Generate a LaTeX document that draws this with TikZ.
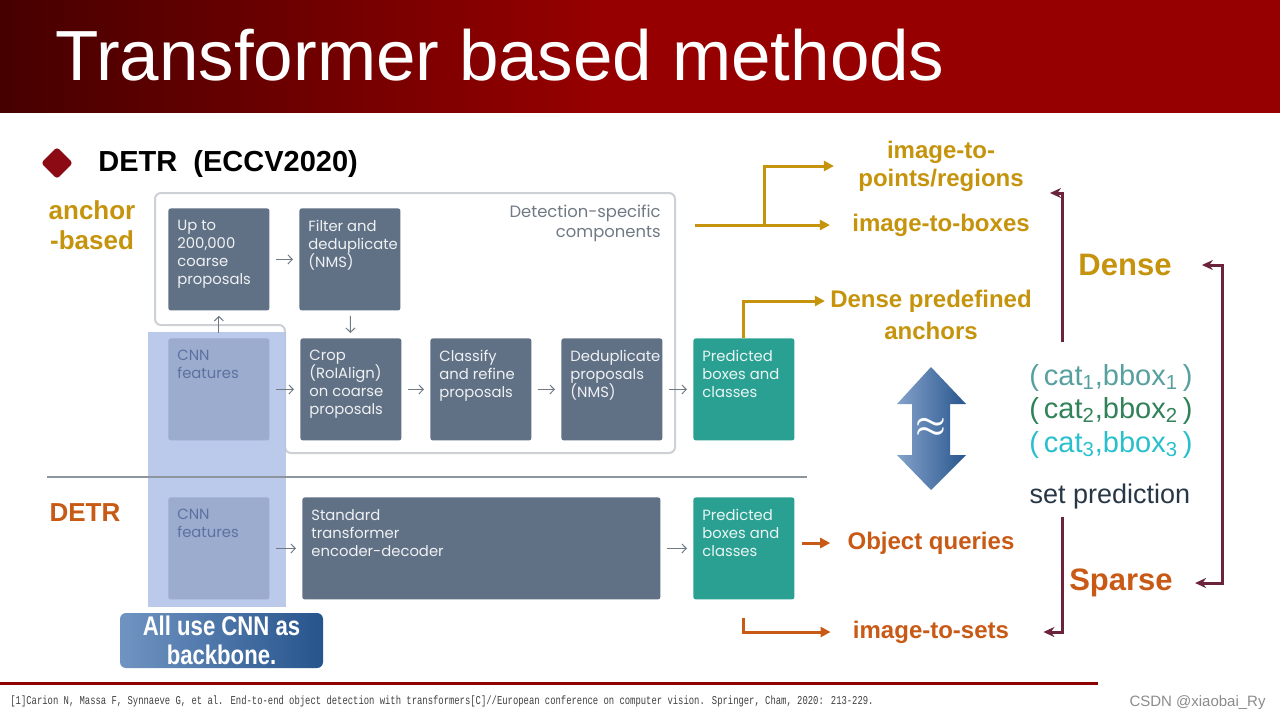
\documentclass[tikz,border=0pt]{standalone}
\usepackage{fontspec}
\setmainfont{Liberation Sans}
\newfontfamily\boxfont{Poppins}
\newfontfamily\narrowfont{Liberation Sans}[FakeStretch=0.82]
\newfontfamily\citefont{Liberation Mono}[FakeStretch=0.74]
\usetikzlibrary{arrows.meta,shapes.geometric}
\definecolor{titlered}{RGB}{150,0,0}
\definecolor{titledark}{RGB}{70,0,0}
\definecolor{bulletred}{RGB}{140,10,20}
\definecolor{slate}{RGB}{96,112,133}
\definecolor{tealbox}{RGB}{42,160,146}
\definecolor{cnnfill}{RGB}{155,172,206}
\definecolor{cnntext}{RGB}{92,113,160}
\definecolor{hilite}{RGB}{180,196,232}
\definecolor{framegray}{RGB}{205,208,212}
\definecolor{flowgray}{RGB}{112,122,133}
\definecolor{gold}{RGB}{197,148,12}
\definecolor{rust}{RGB}{200,90,22}
\definecolor{maroon}{RGB}{108,36,62}
\definecolor{catA}{RGB}{88,160,160}
\definecolor{catB}{RGB}{48,130,88}
\definecolor{catC}{RGB}{40,192,204}
\definecolor{setgray}{RGB}{40,55,70}
\definecolor{btnlight}{RGB}{112,148,194}
\definecolor{btndark}{RGB}{38,84,140}
\definecolor{dblight}{RGB}{132,162,202}
\definecolor{dbdark}{RGB}{40,86,142}
\definecolor{linered}{RGB}{140,0,0}

\begin{document}
\begin{tikzpicture}[x=0.5pt, y=-0.5pt,
  box/.style={fill=slate, rounded corners=1.2pt, minimum width=50.5pt, minimum height=51pt, inner sep=0pt, anchor=north west},
  boxtxt/.style={anchor=north west, align=left, inner xsep=4.5pt, inner ysep=6pt, text=white!90!slate, font=\boxfont\fontsize{7.4}{9}\selectfont},
  cnntxt/.style={boxtxt, text=cnntext},
  predtxt/.style={boxtxt, text=white!90!tealbox},
  flow/.style={draw=flowgray, line width=0.5pt, -{Straight Barb[length=2.2pt,width=4.5pt]}, shorten <=3pt, shorten >=3pt},
  goldarr/.style={draw=gold, line width=1.5pt, -{Triangle[length=5pt,width=5pt]}},
  rustarr/.style={draw=rust, line width=1.5pt, -{Triangle[length=5pt,width=5pt]}},
  maroonarr/.style={draw=maroon, line width=1.5pt, -{Stealth[length=5.5pt,width=5pt]}},
  goldlbl/.style={text=gold, font=\bfseries\fontsize{12}{14}\selectfont, align=center, inner sep=1pt},
  rustlbl/.style={text=rust, font=\bfseries\fontsize{12}{14}\selectfont, align=center, inner sep=1pt},
  catlbl/.style={font=\fontsize{14.5}{16}\selectfont, inner sep=0pt}]
\useasboundingbox (0,0) rectangle (1280,720);
\fill[white] (0,0) rectangle (1280,720);

\fill[titlered] (0,0) rectangle (1280,113);
\shade[left color=titledark, right color=titlered] (0,0) rectangle (600,113);
\fill[white] (0,113) rectangle (1280,118);
\node[anchor=base west, text=white, font=\fontsize{35.5}{40}\selectfont, inner sep=0pt] (title) at (55,80) {Transformer based methods};

\node[diamond, fill=bulletred, minimum size=16pt, inner sep=0pt, rounded corners=1.5pt] (bullet) at (57,163) {};
\node[anchor=west, font=\bfseries\fontsize{14.5}{17}\selectfont, inner sep=0pt] (head) at (98,164) {DETR\ \ (ECCV2020)};
\node[text=gold, font=\bfseries\fontsize{13}{15}\selectfont, align=center] (anchorlbl) at (92,225) {anchor\\-based};
\node[text=rust, font=\bfseries\fontsize{13}{15}\selectfont] (detrlbl) at (85,513) {DETR};

\draw[framegray, line width=1pt, rounded corners=3pt] (155,193) -- (675,193) -- (675,453) -- (285,453) -- (285,325) -- (155,325) -- cycle;
\node[anchor=north east, align=right, inner sep=0pt, text=flowgray, font=\boxfont\fontsize{8.2}{10}\selectfont] (detspec) at (661,205) {Detection-specific\\components};
\fill[hilite, opacity=0.9] (148,332) rectangle (286,607);
\draw[flowgray!80, line width=0.8pt] (47,477) -- (807,477);

\node[box, label={[boxtxt]north west:{Up to\\200,000\\coarse\\proposals}}] (upto) at (168,208) {};
\node[box, label={[boxtxt]north west:{Filter and\\deduplicate\\(NMS)}}] (filter) at (299,208) {};
\node[box, fill=cnnfill, label={[cnntxt]north west:{CNN\\features}}] (cnn1) at (168,338) {};
\node[box, label={[boxtxt]north west:{Crop\\(RoIAlign)\\on coarse\\proposals}}] (crop) at (300,338) {};
\node[box, label={[boxtxt]north west:{Classify\\and refine\\proposals}}] (classify) at (430,338) {};
\node[box, label={[boxtxt]north west:{Deduplicate\\proposals\\(NMS)}}] (dedup) at (561,338) {};
\node[box, fill=tealbox, label={[predtxt]north west:{Predicted\\boxes and\\classes}}] (pred1) at (693,338) {};
\node[box, fill=cnnfill, label={[cnntxt]north west:{CNN\\features}}] (cnn2) at (168,497) {};
\node[box, minimum width=179pt, label={[boxtxt]north west:{Standard\\transformer\\encoder-decoder}}] (transf) at (302,497) {};
\node[box, fill=tealbox, label={[predtxt]north west:{Predicted\\boxes and\\classes}}] (pred2) at (693,497) {};

\draw[flow] (upto) -- (filter);
\draw[flow, shorten <=2.5pt, shorten >=2.5pt] (cnn1) -- (upto);
\draw[flow, shorten <=2.5pt, shorten >=2.5pt] (filter) -- (crop);
\draw[flow] (cnn1) -- (crop);
\draw[flow] (crop) -- (classify);
\draw[flow] (classify) -- (dedup);
\draw[flow] (dedup) -- (pred1);
\draw[flow] (cnn2) -- (transf);
\draw[flow] (transf) -- (pred2);

\node[rounded corners=3pt, left color=btnlight, right color=btndark, minimum width=101.5pt, minimum height=27.5pt, inner sep=0pt, text=white, align=center, font=\narrowfont\bfseries\fontsize{13.5}{14.5}\selectfont] (backbone) at (221.5,640.5) {All use CNN as\\backbone.};

\node[goldlbl] (pts) at (941,166) {image-to-\\points/regions};
\node[goldlbl] (boxes) at (941,225) {image-to-boxes};
\node[goldlbl] (dpre) at (931,301) {Dense predefined};
\node[goldlbl] (anch) at (931,331) {anchors};
\node[rustlbl] (objq) at (931,543) {Object queries};
\node[rustlbl] (sets) at (931,632) {image-to-sets};

\coordinate (detout) at (695,225);
\coordinate (split) at (764,225);
\draw[goldarr, shorten >=10pt] (detout) -- (boxes.west);
\draw[goldarr, shorten >=11pt] (split) |- (pts.west);
\draw[goldarr, shorten >=1.5pt] (pred1.north) |- (dpre.west);
\draw[rustarr, shorten <=3.5pt, shorten >=7.5pt] (pred2.east |- objq.west) -- (objq.west);
\draw[rustarr, shorten <=9pt, shorten >=10pt] (pred2.south) |- (sets.west);

\shade[left color=dblight, right color=dbdark] (931,367) -- (966,404) -- (950,404) -- (950,455) -- (966,455) -- (931,490) -- (897,455) -- (912,455) -- (912,404) -- (897,404) -- cycle;
\node[text=white, font=\fontsize{19}{19}\selectfont\boldmath] (approx) at (931,428) {$\approx$};

\node[catlbl, text=catA] (cat1) at (1111,378) {(\,cat\textsubscript{1},bbox\textsubscript{1}\,)};
\node[catlbl, text=catB] (cat2) at (1111,411) {(\,cat\textsubscript{2},bbox\textsubscript{2}\,)};
\node[catlbl, text=catC] (cat3) at (1111,445) {(\,cat\textsubscript{3},bbox\textsubscript{3}\,)};
\node[text=setgray, font=\fontsize{13.5}{15}\selectfont, inner sep=1pt] (setp) at (1110,497) {set prediction};

\node[text=gold, font=\bfseries\fontsize{15.5}{18}\selectfont, inner sep=1pt] (dense) at (1125,265) {Dense};
\node[text=rust, font=\bfseries\fontsize{15.5}{18}\selectfont, inner sep=1pt] (sparse) at (1121,583) {Sparse};

\coordinate (densefoot) at (1062,342);
\coordinate (densehook) at (1050,193);
\coordinate (setfoot) at (1062,517);
\coordinate (brk) at (1222,265);
\draw[maroonarr] (densefoot) |- (densehook);
\draw[maroonarr, shorten >=16pt] (setfoot) |- (sets.east);
\draw[maroonarr, {Stealth[length=5.5pt,width=5pt]}-{Stealth[length=5.5pt,width=5pt]}, shorten <=14pt, shorten >=10pt] (dense.east) -- (brk) -- (sparse.east -| brk) -- (sparse.east);

\draw[linered, line width=1.5pt] (0,683) -- (1098,683);
\node[anchor=west, inner sep=0pt, text=black!75, font=\citefont\fontsize{6}{7}\selectfont] (cite) at (10,701) {[1]Carion N, Massa F, Synnaeve G, et al. End-to-end object detection with transformers[C]//European conference on computer vision. Springer, Cham, 2020: 213-229.};
\node[anchor=east, inner sep=0pt, text=black!45, font=\fontsize{7.5}{9}\selectfont] (csdn) at (1266,703) {CSDN @xiaobai\_Ry};
\end{tikzpicture}
\end{document}
